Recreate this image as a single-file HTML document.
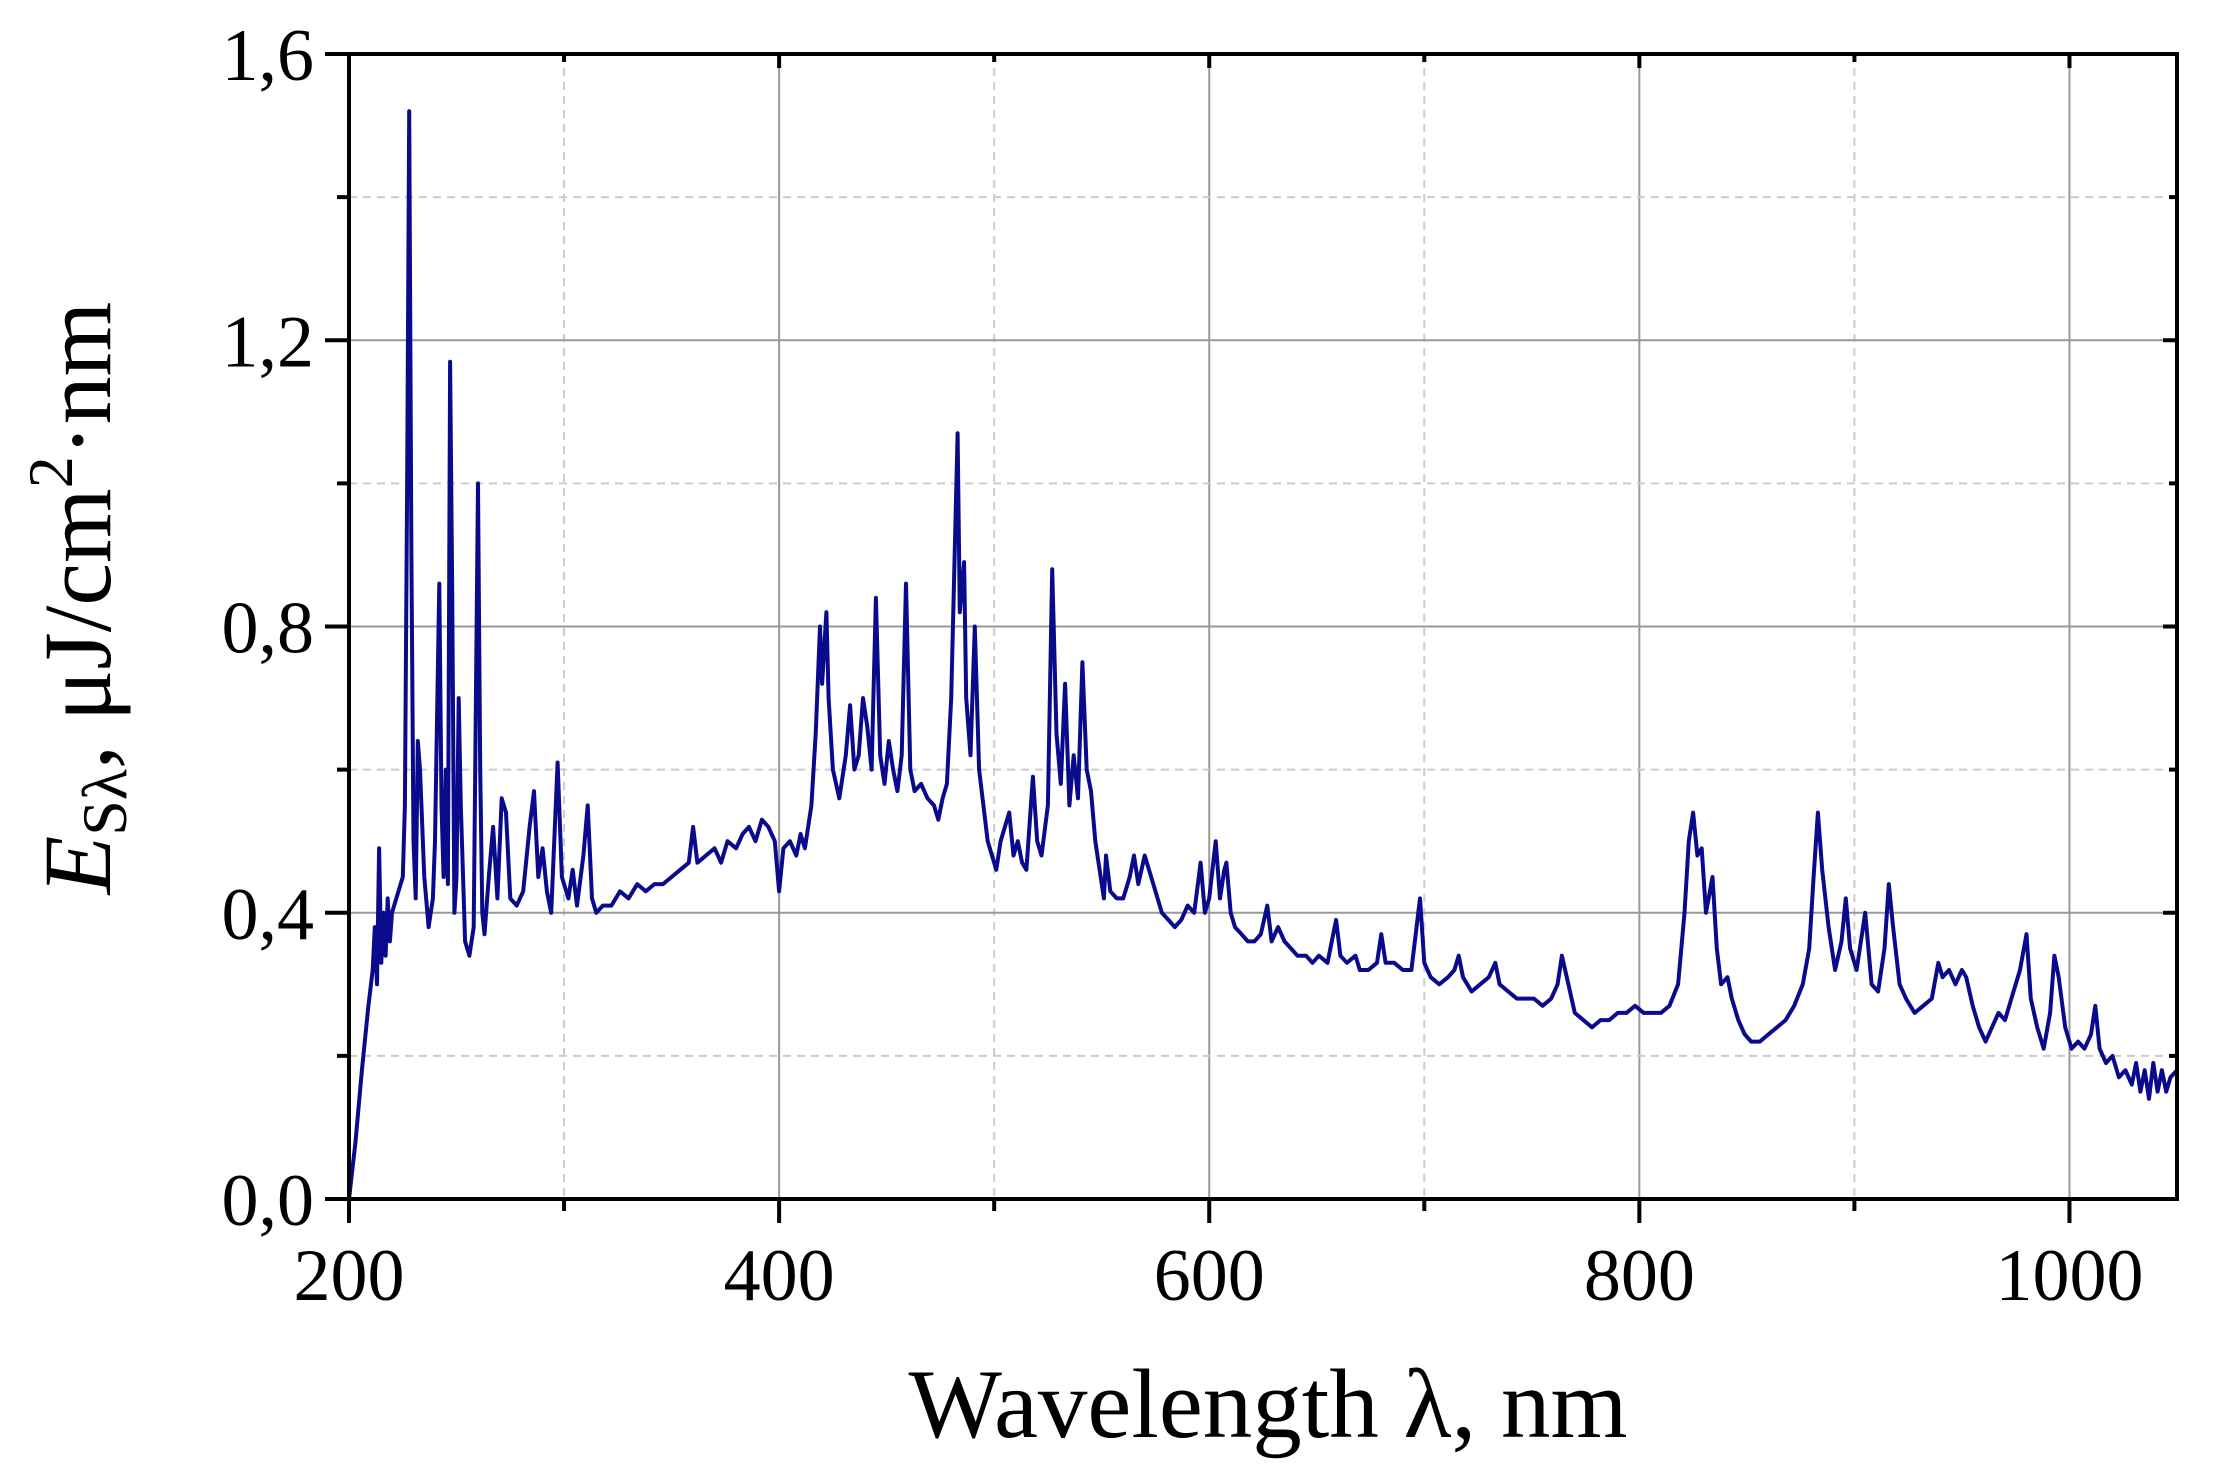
<!DOCTYPE html>
<html><head><meta charset="utf-8"><style>
html,body{margin:0;padding:0;background:#fff;}
svg{display:block;font-family:"Liberation Serif",serif;}
</style></head><body>
<svg id="chart" width="2213" height="1472" viewBox="0 0 2213 1472" xmlns="http://www.w3.org/2000/svg">
<g id="grid"></g>
<g id="series"></g>
<g id="axes"></g>
<text x="1268" y="1437" font-size="99" text-anchor="middle">Wavelength λ, nm</text>
<text transform="translate(110,598) rotate(-90)" font-size="96" text-anchor="middle"><tspan font-style="italic">E</tspan><tspan font-size="64" dy="16">Sλ</tspan><tspan dy="-16">, μJ/cm</tspan><tspan font-size="64" dy="-38">2</tspan><tspan dy="38">·nm</tspan></text>
</svg>
<script>
const wl = [200,203,206,209,211,212,213,214,215,216,217,218,219,220,222,225,226,227,228,229,230,231,232,233,235,237,239,240,242,243,244,245,246,247,248,249,250,251,252,254,256,258,260,261,262,263,265,267,269,271,273,275,278,281,284,286,288,290,292,294,297,299,302,304,306,309,311,313,315,318,322,326,330,334,338,342,346,350,354,358,360,362,366,370,373,376,380,383,386,389,392,395,398,400,402,405,408,410,412,415,417,419,420,422,423,425,428,431,433,435,437,439,441,443,445,447,449,451,453,455,457,459,461,463,466,469,472,474,476,478,480,483,484,486,487,489,491,493,495,497,499,501,503,505,507,509,511,513,515,518,520,522,525,527,529,531,533,535,537,539,541,543,545,547,549,551,552,554,557,560,563,565,567,570,572,574,576,578,581,584,587,590,593,596,598,600,603,605,607,608,610,612,615,618,621,624,627,629,632,635,638,641,645,648,651,655,659,661,664,668,670,674,678,680,682,686,690,694,698,700,703,707,711,714,716,718,722,726,730,733,735,739,743,747,751,755,759,762,764,767,770,774,778,782,786,790,794,798,802,806,810,814,818,821,823,825,827,829,831,834,836,838,841,843,846,849,852,856,860,864,868,872,876,879,881,883,885,888,891,894,896,898,901,903,905,908,911,914,916,918,921,924,928,932,936,939,941,944,947,950,952,955,958,961,964,967,970,973,975,977,980,982,985,988,991,993,995,998,1001,1004,1007,1010,1012,1014,1017,1020,1023,1026,1029,1031,1033,1035,1037,1039,1041,1043,1045,1047,1050];
const irr = [0,0.08,0.18,0.27,0.32,0.38,0.30,0.49,0.33,0.40,0.34,0.42,0.36,0.40,0.42,0.45,0.55,0.99,1.52,0.90,0.50,0.42,0.64,0.60,0.45,0.38,0.42,0.50,0.86,0.55,0.45,0.60,0.44,1.17,0.85,0.40,0.45,0.70,0.55,0.36,0.34,0.38,1.00,0.60,0.40,0.37,0.45,0.52,0.42,0.56,0.54,0.42,0.41,0.43,0.52,0.57,0.45,0.49,0.43,0.40,0.61,0.45,0.42,0.46,0.41,0.48,0.55,0.42,0.40,0.41,0.41,0.43,0.42,0.44,0.43,0.44,0.44,0.45,0.46,0.47,0.52,0.47,0.48,0.49,0.47,0.50,0.49,0.51,0.52,0.50,0.53,0.52,0.50,0.43,0.49,0.50,0.48,0.51,0.49,0.55,0.65,0.80,0.72,0.82,0.70,0.60,0.56,0.62,0.69,0.60,0.62,0.70,0.66,0.60,0.84,0.62,0.58,0.64,0.60,0.57,0.62,0.86,0.60,0.57,0.58,0.56,0.55,0.53,0.56,0.58,0.70,1.07,0.82,0.89,0.70,0.62,0.80,0.60,0.55,0.50,0.48,0.46,0.50,0.52,0.54,0.48,0.50,0.47,0.46,0.59,0.50,0.48,0.55,0.88,0.65,0.58,0.72,0.55,0.62,0.56,0.75,0.60,0.57,0.50,0.46,0.42,0.48,0.43,0.42,0.42,0.45,0.48,0.44,0.48,0.46,0.44,0.42,0.40,0.39,0.38,0.39,0.41,0.40,0.47,0.40,0.42,0.50,0.42,0.46,0.47,0.40,0.38,0.37,0.36,0.36,0.37,0.41,0.36,0.38,0.36,0.35,0.34,0.34,0.33,0.34,0.33,0.39,0.34,0.33,0.34,0.32,0.32,0.33,0.37,0.33,0.33,0.32,0.32,0.42,0.33,0.31,0.30,0.31,0.32,0.34,0.31,0.29,0.30,0.31,0.33,0.30,0.29,0.28,0.28,0.28,0.27,0.28,0.30,0.34,0.30,0.26,0.25,0.24,0.25,0.25,0.26,0.26,0.27,0.26,0.26,0.26,0.27,0.30,0.40,0.50,0.54,0.48,0.49,0.40,0.45,0.35,0.30,0.31,0.28,0.25,0.23,0.22,0.22,0.23,0.24,0.25,0.27,0.30,0.35,0.45,0.54,0.46,0.38,0.32,0.36,0.42,0.35,0.32,0.36,0.40,0.30,0.29,0.35,0.44,0.38,0.30,0.28,0.26,0.27,0.28,0.33,0.31,0.32,0.30,0.32,0.31,0.27,0.24,0.22,0.24,0.26,0.25,0.28,0.30,0.32,0.37,0.28,0.24,0.21,0.26,0.34,0.31,0.24,0.21,0.22,0.21,0.23,0.27,0.21,0.19,0.20,0.17,0.18,0.16,0.19,0.15,0.18,0.14,0.19,0.15,0.18,0.15,0.17,0.18];
const xTicks = [200,400,600,800,1000];
const xMinor = [300,500,700,900];
const yTicks = [0,0.4,0.8,1.2,1.6];
const yTickLabels = ["0,0","0,4","0,8","1,2","1,6"];
const yMinor = [0.2,0.6,1.0,1.4];

const L=349,R=2177,T=54,B=1199, X0=200,X1=1050, Y0=0,Y1=1.6;
const sx=v=>L+(v-X0)/(X1-X0)*(R-L);
const sy=v=>B-(v-Y0)/(Y1-Y0)*(B-T);
const NS="http://www.w3.org/2000/svg";
function mk(tag,parent,attrs){const e=document.createElementNS(NS,tag);for(const k in attrs)e.setAttribute(k,attrs[k]);parent.appendChild(e);return e;}
const grid=document.getElementById('grid'),axes=document.getElementById('axes'),series=document.getElementById('series');

xTicks.forEach(v=>{if(v===X0)return;
 const g=mk('line',grid,{x1:sx(v),x2:sx(v),y1:T,y2:B,stroke:'#999','stroke-width':2});
 
 });
xMinor.forEach(v=>{
 const g=mk('line',grid,{x1:sx(v),x2:sx(v),y1:T,y2:B,stroke:'#ccc','stroke-width':2,'stroke-dasharray':'8,6'});
 
 });
yTicks.forEach(v=>{if(v===Y0||v===Y1)return;
 const g=mk('line',grid,{x1:L,x2:R,y1:sy(v),y2:sy(v),stroke:'#999','stroke-width':2});
 
 });
yMinor.forEach(v=>{
 const g=mk('line',grid,{x1:L,x2:R,y1:sy(v),y2:sy(v),stroke:'#ccc','stroke-width':2,'stroke-dasharray':'8,6'});
 
 });

let d='';wl.forEach((w,i)=>{d+=(i?'L':'M')+sx(w).toFixed(1)+','+sy(irr[i]).toFixed(1);});
const p=mk('path',series,{d:d,fill:'none',stroke:'#0a0a8c','stroke-width':4,'stroke-linejoin':'round'});



const fr=mk('rect',axes,{x:L,y:T,width:R-L,height:B-T,fill:'none',stroke:'#000','stroke-width':4});



xTicks.forEach(v=>{
 mk('line',axes,{x1:sx(v),x2:sx(v),y1:B,y2:B+24,stroke:'#000','stroke-width':4});
 mk('line',axes,{x1:sx(v),x2:sx(v),y1:T,y2:T+14,stroke:'#000','stroke-width':4});
 const t=mk('text',axes,{x:sx(v),y:1300,'font-size':74,'text-anchor':'middle'});
 t.textContent=v;
 
 });
xMinor.forEach(v=>{
 mk('line',axes,{x1:sx(v),x2:sx(v),y1:B,y2:B+12,stroke:'#000','stroke-width':4});
 mk('line',axes,{x1:sx(v),x2:sx(v),y1:T,y2:T+8,stroke:'#000','stroke-width':4});});
yTicks.forEach((v,i)=>{
 mk('line',axes,{x1:L-24,x2:L,y1:sy(v),y2:sy(v),stroke:'#000','stroke-width':4});
 mk('line',axes,{x1:R-14,x2:R,y1:sy(v),y2:sy(v),stroke:'#000','stroke-width':4});
 const t=mk('text',axes,{x:314,y:sy(v)+26,'font-size':74,'text-anchor':'end'});
 t.textContent=yTickLabels[i];
 
 });
yMinor.forEach(v=>{
 mk('line',axes,{x1:L-12,x2:L,y1:sy(v),y2:sy(v),stroke:'#000','stroke-width':4});
 mk('line',axes,{x1:R-8,x2:R,y1:sy(v),y2:sy(v),stroke:'#000','stroke-width':4});});
</script>
</body></html>
